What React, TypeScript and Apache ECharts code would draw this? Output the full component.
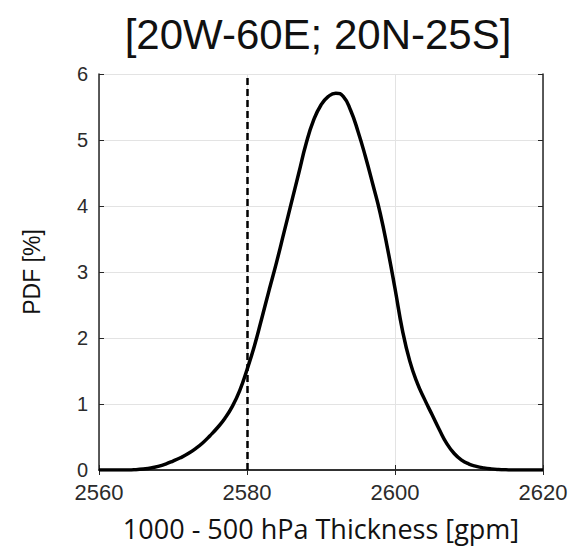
import React, { useEffect, useRef } from "react";
import * as echarts from "echarts";

// Thickness bins (gpm) and the probability density (%) at each
const thickness = [
  2560, 2561, 2562, 2563, 2564, 2565, 2566, 2567, 2568, 2569, 2570, 2571, 2572,
  2573, 2574, 2575, 2576, 2577, 2578, 2579, 2580, 2581, 2582, 2583, 2584, 2585,
  2586, 2587, 2588, 2589, 2590, 2591, 2592, 2593, 2594, 2595, 2596, 2597, 2598,
  2599, 2600, 2601, 2602, 2603, 2604, 2605, 2606, 2607, 2608, 2609, 2610, 2611,
  2612, 2613, 2614, 2615, 2616, 2617, 2618, 2619, 2620,
];
const pdf = [
  0, 0, 0, 0, 0, 0.005, 0.015, 0.03, 0.055, 0.09, 0.135, 0.185, 0.245,
  0.32, 0.41, 0.52, 0.64, 0.78, 0.96, 1.2, 1.52, 1.88, 2.3, 2.73, 3.15, 3.6,
  4.05, 4.5, 4.95, 5.3, 5.53, 5.66, 5.71, 5.66, 5.45, 5.13, 4.75, 4.33, 3.89,
  3.35, 2.75, 2.12, 1.65, 1.32, 1.07, 0.84, 0.61, 0.4, 0.25, 0.15, 0.09, 0.055,
  0.032, 0.017, 0.008, 0.003, 0, 0, 0, 0, 0,
];

// Reference threshold drawn as a dashed vertical line
const thresholdValue = 2580;

const xTicks = { min: 2560, max: 2620, interval: 20 };
const yTicks = { min: 0, max: 6, interval: 1 };

const titleText = "[20W-60E; 20N-25S]";
const xName = "1000 - 500 hPa Thickness [gpm]";
const yName = "PDF [%]";

export default function App() {
  const ref = useRef<HTMLDivElement>(null);

  useEffect(() => {
    if (!ref.current) return;
    const chart = echarts.init(ref.current, undefined, { renderer: "svg" });
    const axisLine = { show: true, lineStyle: { color: "#262626", width: 1.5 } };
    const grid = { show: true, lineStyle: { color: "#e3e3e3", width: 1 } };
    const tick = { show: true, inside: true, length: 5, lineStyle: { color: "#262626", width: 1 } };
    const arial = "'Liberation Sans', Arial, sans-serif";
    const plain = (v: number) => String(v);

    chart.setOption({
      animation: false,
      backgroundColor: "#ffffff",
      title: {
        text: titleText,
        left: 313,
        textAlign: "center",
        top: 8,
        textStyle: { fontFamily: arial, fontSize: 42, fontWeight: "normal", color: "#111111" },
      },
      grid: { left: 99, right: 28, top: 74, bottom: 76, show: false },
      xAxis: [
        {
          type: "value",
          ...xTicks,
          position: "bottom",
          axisLine,
          axisTick: tick,
          splitLine: grid,
          axisLabel: { fontFamily: arial, fontSize: 22, color: "#2b2b2b", margin: 11, formatter: plain },
          name: xName,
          nameLocation: "middle",
          nameGap: 45,
          nameTextStyle: { fontFamily: "'Open Sans', sans-serif", fontSize: 27, color: "#111111" },
        },
        {
          type: "value",
          ...xTicks,
          position: "top",
          axisLine,
          axisTick: tick,
          splitLine: { show: false },
          axisLabel: { show: false },
        },
      ],
      yAxis: [
        {
          type: "value",
          ...yTicks,
          position: "left",
          axisLine,
          axisTick: tick,
          splitLine: grid,
          axisLabel: { fontFamily: arial, fontSize: 20, color: "#2b2b2b", margin: 11, formatter: plain },
          name: yName,
          nameLocation: "middle",
          nameRotate: 90,
          nameGap: 56,
          nameTextStyle: { fontFamily: arial, fontSize: 23, color: "#111111" },
        },
        {
          type: "value",
          ...yTicks,
          position: "right",
          axisLine,
          axisTick: tick,
          splitLine: { show: false },
          axisLabel: { show: false },
        },
      ],
      series: [
        {
          type: "line",
          data: thickness.map((x, i) => [x, pdf[i]]),
          smooth: 0.5,
          showSymbol: false,
          lineStyle: { color: "#000000", width: 3.5 },
          z: 3,
          markLine: {
            silent: true,
            symbol: ["none", "none"],
            label: { show: false },
            lineStyle: { color: "#000000", width: 2.5, type: [7, 4] },
            data: [{ xAxis: thresholdValue }],
          },
        },
      ],
    });

    return () => chart.dispose();
  }, []);

  return (
    <div
      ref={ref}
      style={{ position: "absolute", left: 0, top: 0, width: 571, height: 547 }}
    />
  );
}
